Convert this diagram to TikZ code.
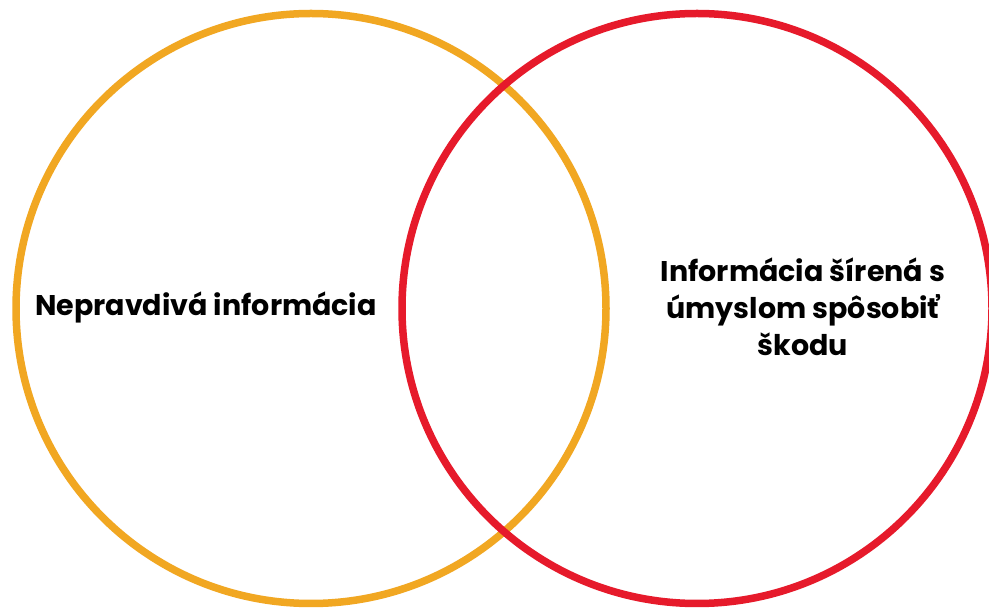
\documentclass[tikz,border=0pt]{standalone}
\usepackage{fontspec}
\setmainfont{Poppins}
\usepackage{tikz}

\definecolor{vennorange}{HTML}{F1A722}
\definecolor{vennred}{HTML}{E61A2B}

\tikzset{
  venncircle/.style={line width=7.5pt},
  venntext/.style={font=\bfseries\fontsize{28.5}{37}\selectfont, align=center, inner sep=0pt}
}

\begin{document}
\begin{tikzpicture}[x=1pt,y=1pt]
  \useasboundingbox (0,0) rectangle (989,608);
  \clip (0,0) rectangle (989,608);
  \fill[white] (0,0) rectangle (989,608);
  \draw[venncircle, vennorange] (311,299.5) circle (295);
  \draw[venncircle, vennred] (697,299.5) circle (295);
  \node[venntext] (false) at (206,301) {Nepravdivá informácia};
  \node[venntext] (harm) at (803,301) {Informácia šírená s\\úmyslom spôsobiť\\škodu};
 \end{tikzpicture}
\end{document}
